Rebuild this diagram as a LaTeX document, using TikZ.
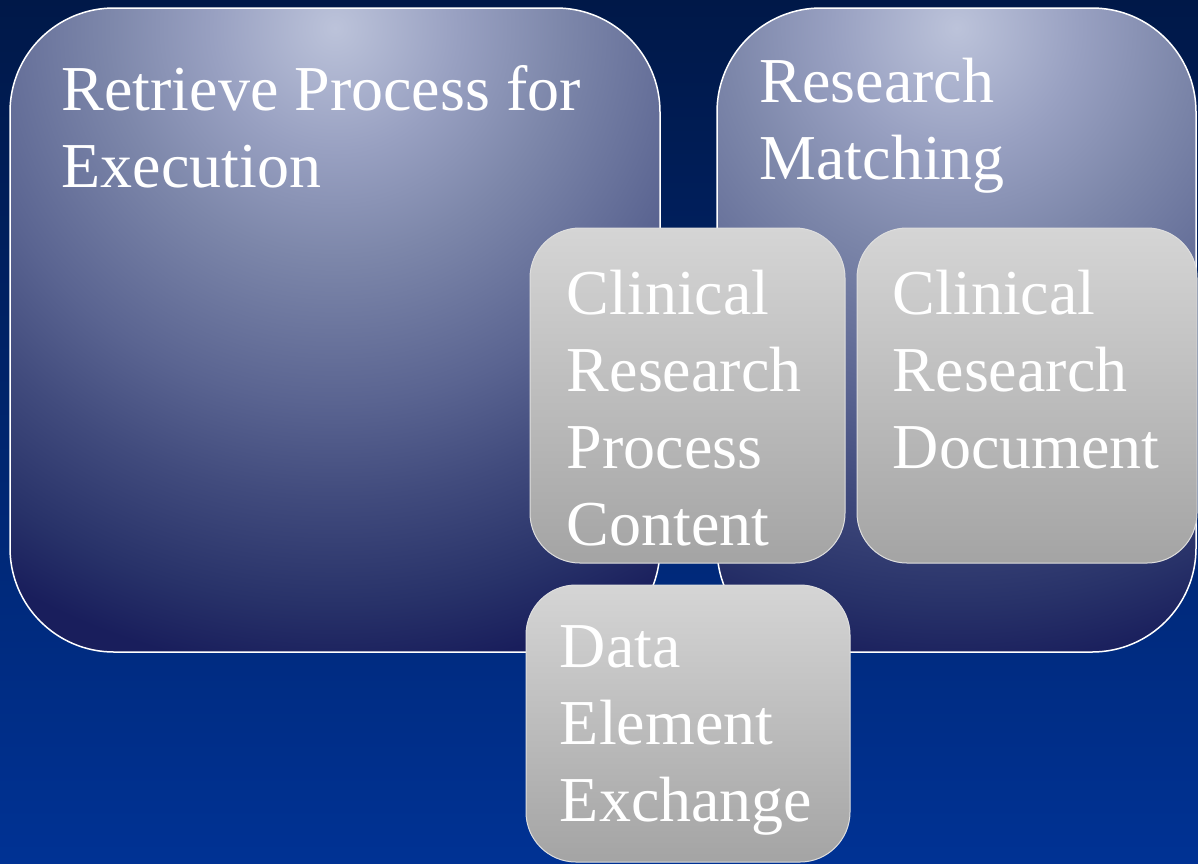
\documentclass[tikz,border=0pt]{standalone}
\usepackage{fontspec}
\setmainfont{Liberation Serif}
\usetikzlibrary{positioning}

\definecolor{slidetop}{RGB}{0,24,72}
\definecolor{slidebot}{RGB}{0,50,148}
\definecolor{glowA}{RGB}{188,195,218}
\definecolor{glowB}{RGB}{152,160,193}
\definecolor{glowC}{RGB}{125,135,170}
\definecolor{glowD}{RGB}{90,100,145}
\definecolor{glowE}{RGB}{65,75,125}
\definecolor{glowF}{RGB}{40,50,105}
\definecolor{glowG}{RGB}{25,30,92}
\definecolor{grytop}{RGB}{213,213,213}
\definecolor{grymid}{RGB}{194,194,194}
\definecolor{grybot}{RGB}{164,164,164}
\definecolor{gryrim}{RGB}{222,222,222}

% concentric glow, drawn as a big circle from the top of each box
\pgfdeclareradialshading{bigglow}{\pgfpointorigin}%
  {color(0bp)=(glowA); color(4.3bp)=(glowB); color(7.9bp)=(glowC);
   color(13bp)=(glowD); color(16.3bp)=(glowE); color(20bp)=(glowF);
   color(22.4bp)=(glowG); color(50bp)=(glowG)}

\tikzset{
  bigbox/.style = {draw=white, line width=0.75pt, rounded corners=52pt,
                   fill=glowG, inner sep=0pt, minimum height=322pt,
                   path picture={\shade[shading=bigglow]
                     ([yshift=-10pt]path picture bounding box.north) circle (360pt);}},
  grybox/.style = {draw=gryrim, line width=0.5pt, rounded corners=25pt,
                   top color=grytop, middle color=grymid, bottom color=grybot,
                   inner sep=0pt},
  caption/.style = {text=white, align=left, anchor=base west, inner sep=0pt,
                    font=\fontsize{32}{38.5}\selectfont}
}

\begin{document}
\begin{tikzpicture}%
    [x=0.5pt, y=-0.5pt]
    \shade[top color=slidetop, bottom color=slidebot] (0,0) rectangle (1198,863);
    \useasboundingbox (0,0) rectangle (1198,863);

    \node[bigbox, minimum width=325pt]   (retrieve) at (335,330) {};
    \node[bigbox, minimum width=239.5pt] (matching) at (956.5,330) {};

    \node[grybox, minimum width=157.5pt, minimum height=167.5pt] (crpc) at (687.5,395.5) {};
    \node[grybox, minimum width=170pt, minimum height=167.5pt]   (crd)  at (1027,395.5) {};
    \node[grybox, minimum width=162pt, minimum height=138.5pt]   (dee)  at (688,723.5) {};

    % captions sit on the baseline of their last line
    \node[caption] (retrievetxt) at ([shift={(52,180)}]retrieve.north west) {Retrieve Process for\\Execution};
    \node[caption] (matchingtxt) at ([shift={(43,172)}]matching.north west) {Research\\Matching};
    \node[caption] (crpctxt) at ([shift={(37,318)}]crpc.north west) {Clinical\\Research\\Process\\Content};
    \node[caption] (crdtxt) at ([shift={(36,241)}]crd.north west) {Clinical\\Research\\Document};
    \node[caption] (deetxt) at ([shift={(34,237)}]dee.north west) {Data\\Element\\Exchange};
\end{tikzpicture}
\end{document}
